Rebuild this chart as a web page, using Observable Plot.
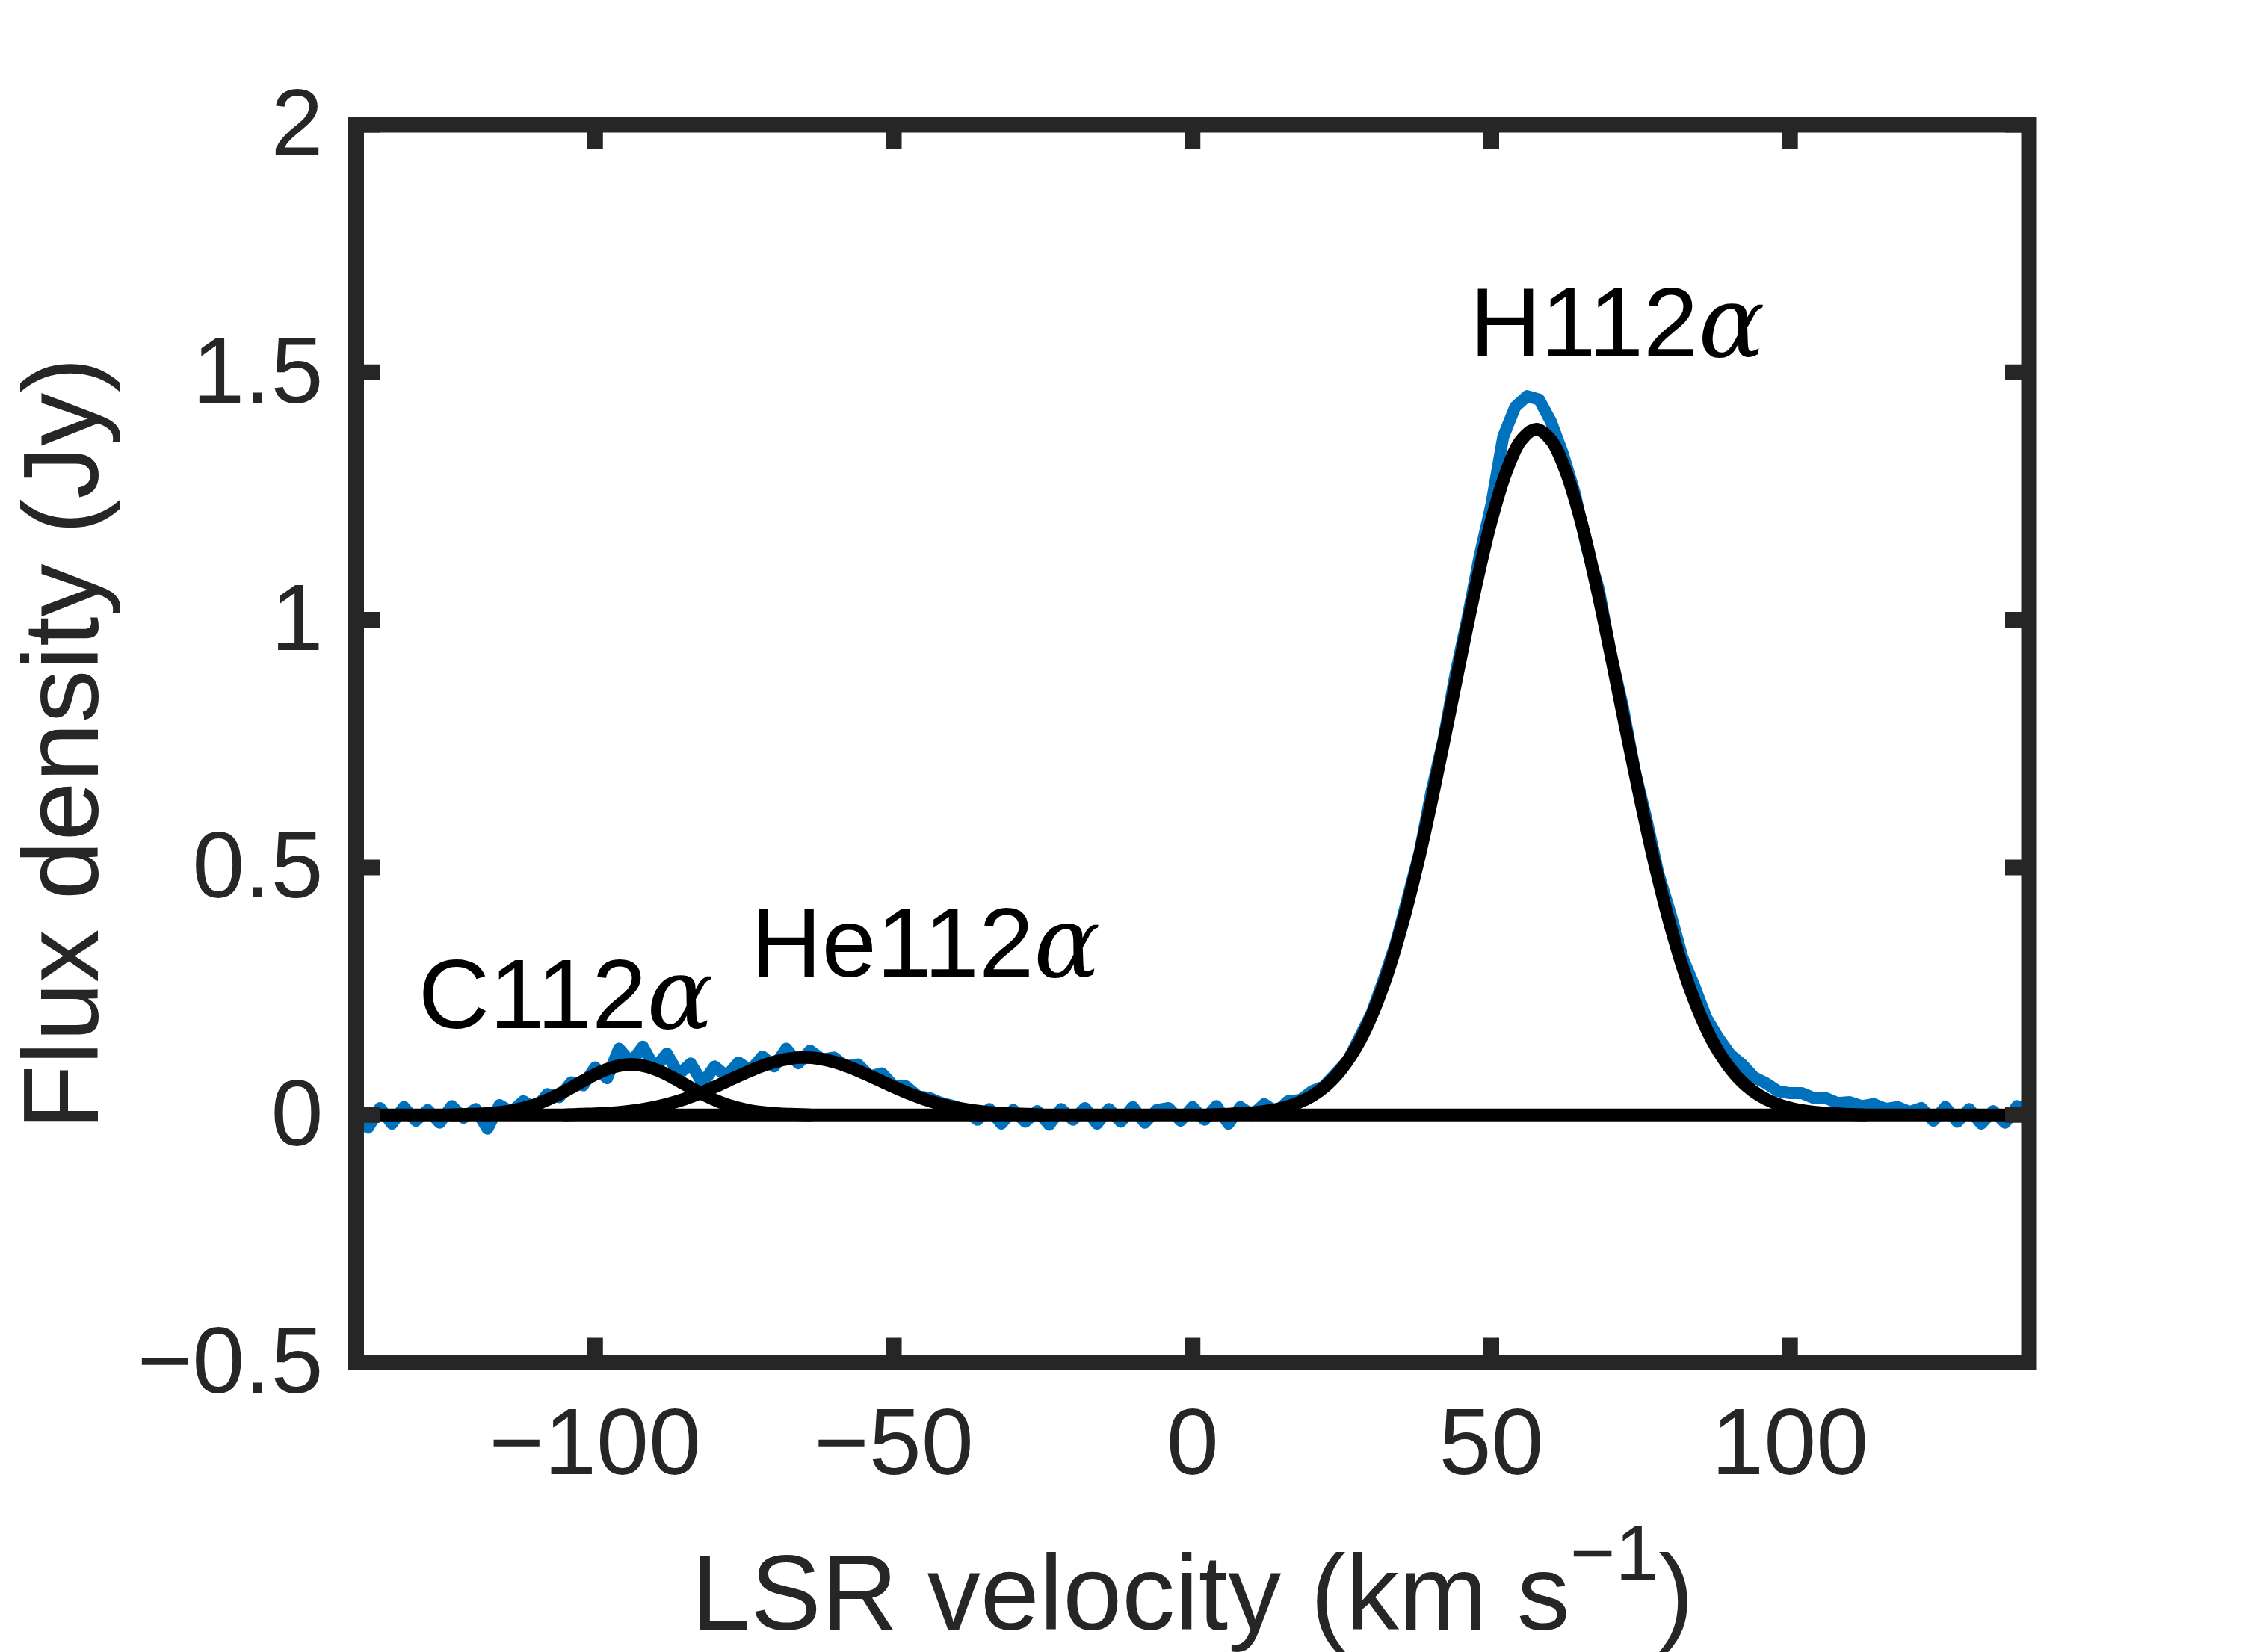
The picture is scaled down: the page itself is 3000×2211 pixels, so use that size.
<!DOCTYPE html>
<html>
<head>
<meta charset="utf-8">
<script src="https://cdn.jsdelivr.net/npm/d3@7"></script>
<script src="https://cdn.jsdelivr.net/npm/@observablehq/plot@0.6"></script>
<style>
  html, body { margin: 0; padding: 0; background: #ffffff; }
</style>
</head>
<body>
<div id="chart"></div>
<script>
// ---- observed spectrum (LSR velocity in km/s, flux density in Jy) ----
const velocity = [
  -140,-138,-136,-134,-132,-130,-128,-126,-124,-122,-120,-118,-116,-114,-112,-110,-108,-106,-104,-102,
  -100,-98,-96,-94,-92,-90,-88,-86,-84,-82,-80,-78,-76,-74,-72,-70,-68,-66,-64,-62,
  -60,-58,-56,-54,-52,-50,-48,-46,-44,-42,-40,-38,-36,-34,-32,-30,-28,-26,-24,-22,
  -20,-18,-16,-14,-12,-10,-8,-6,-4,-2,0,2,4,6,8,10,12,14,16,18,
  20,22,24,26,28,30,32,34,36,38,40,42,44,46,48,50,52,54,56,58,
  60,62,64,66,68,70,72,74,76,78,80,82,84,86,88,90,92,94,96,98,
  100,102,104,106,108,110,112,114,116,118,120,122,124,126,128,130,132,134,136,138,140
];
const flux = [
  0.022,-0.026,0.014,-0.018,0.016,-0.012,0.010,-0.016,0.018,-0.006,0.012,-0.028,0.020,0.006,0.028,0.012,0.042,0.036,0.066,0.060,
  0.096,0.074,0.134,0.106,0.138,0.094,0.124,0.082,0.104,0.064,0.098,0.078,0.106,0.090,0.118,0.098,0.134,0.104,0.130,0.112,
  0.116,0.098,0.102,0.078,0.084,0.058,0.058,0.038,0.034,0.024,0.018,0.010,-0.010,0.012,-0.018,0.010,-0.014,0.008,-0.020,0.012,
  -0.010,0.014,-0.018,0.012,-0.014,0.016,-0.016,0.010,0.014,-0.012,0.016,-0.010,0.018,-0.018,0.016,0.000,0.022,0.006,0.028,0.030,
  0.048,0.058,0.084,0.110,0.158,0.206,0.274,0.346,0.438,0.530,0.654,0.758,0.890,1.002,1.126,1.232,1.370,1.430,1.452,1.445,
  1.400,1.335,1.255,1.145,1.062,0.930,0.826,0.696,0.596,0.486,0.406,0.318,0.260,0.196,0.156,0.122,0.102,0.076,0.064,0.048,
  0.044,0.044,0.034,0.034,0.024,0.026,0.018,0.022,0.012,0.016,0.006,0.014,-0.012,0.016,-0.014,0.012,-0.018,0.008,-0.016,0.018,0.010
];

// ---- fitted line profiles ----
const fitCVelocity = [-124,-121.5,-119,-116.5,-114,-111.5,-109,-106.5,-104,-101.5,-99,-96.5,-94,-91.5,-89,-86.5,-84,-81.5,-79,-76.5,-74,-71.5,-69,-66.5,-64];
const fitCFlux = [0,0.001,0.0022,0.0045,0.0086,0.0154,0.0254,0.0389,0.055,0.0721,0.0874,0.0981,0.102,0.0981,0.0874,0.0721,0.055,0.0389,0.0254,0.0154,0.0086,0.0045,0.0022,0.001,0];

const fitHeVelocity = [-105,-102.5,-100,-97.5,-95,-92.5,-90,-87.5,-85,-82.5,-80,-77.5,-75,-72.5,-70,-67.5,-65,-62.5,-60,-57.5,-55,-52.5,-50,-47.5,-45,-42.5,-40,-37.5,-35,-32.5,-30,-27.5,-25];
const fitHeFlux = [0,0.0013,0.0023,0.0039,0.0065,0.0103,0.0157,0.023,0.0322,0.0435,0.0565,0.0704,0.0842,0.0969,0.1071,0.1137,0.116,0.1137,0.1071,0.0969,0.0842,0.0704,0.0565,0.0435,0.0322,0.023,0.0157,0.0103,0.0065,0.0039,0.0023,0.0013,0];

const fitHVelocity = [2.5,5,7.5,10,12.5,15,17.5,20,22.5,25,27.5,30,32.5,35,37.5,40,42.5,45,47.5,50,52.5,55,57.5,60,62.5,65,67.5,70,72.5,75,77.5,80,82.5,85,87.5,90,92.5,95,97.5,100,102.5,105,107.5,110,112.5];
const fitHFlux = [0,0.0012,0.0024,0.0044,0.0079,0.0138,0.0234,0.0383,0.0608,0.0936,0.139,0.201,0.281,0.381,0.499,0.634,0.780,0.930,1.073,1.200,1.299,1.363,1.385,1.363,1.299,1.200,1.073,0.930,0.780,0.634,0.499,0.381,0.281,0.201,0.139,0.0936,0.0608,0.0383,0.0234,0.0138,0.0079,0.0044,0.0024,0.0012,0];

// ---- line annotations ----
const lineNames = ["C112α", "He112α", "H112α"];
const labelVelocity = [-129.6, -74.0, 46.4];
const labelFlux = [0.176, 0.279, 1.532];

// ---- axes ----
const xTicks = [-100, -50, 0, 50, 100];
const xTickLabels = ["−100", "−50", "0", "50", "100"];
const yTicks = [-0.5, 0, 0.5, 1, 1.5, 2];
const yTickLabels = ["−0.5", "0", "0.5", "1", "1.5", "2"];
const xLabel = "LSR velocity (km s−1)";
const yLabel = "Flux density (Jy)";

// ---- tables built from the arrays ----
const spectrum = velocity.map((v, i) => ({v, f: flux[i]}));
const fitC = fitCVelocity.map((v, i) => ({v, f: fitCFlux[i]}));
const fitHe = fitHeVelocity.map((v, i) => ({v, f: fitHeFlux[i]}));
const fitH = fitHVelocity.map((v, i) => ({v, f: fitHFlux[i]}));
const labels = lineNames.map((name, i) => ({name, v: labelVelocity[i], f: labelFlux[i]}));

const FONT = "'Liberation Sans', Arial, Helvetica, sans-serif";
const INK = "#262626";
const BLUE = "#0072BD";
const TICK_LEN = 32.5;
const FRAME_W = 21;

const fitStyle = {x: "v", y: "f", stroke: "#000", strokeWidth: 17, curve: "catmull-rom", strokeLinejoin: "round", strokeLinecap: "round"};

const chart = Plot.plot({
  width: 3000,
  height: 2211,
  marginLeft: 476,
  marginRight: 285.5,
  marginTop: 166.5,
  marginBottom: 388,
  style: {fontFamily: FONT, background: "#ffffff", color: INK, overflow: "visible"},
  x: {domain: [-140, 140]},
  y: {domain: [-0.5, 2]},
  marks: [
    Plot.line(spectrum, {x: "v", y: "f", stroke: BLUE, strokeWidth: 16, strokeLinejoin: "round", strokeLinecap: "round"}),
    Plot.ruleY([0], {stroke: "#000", strokeWidth: 17}),
    Plot.line(fitC, fitStyle),
    Plot.line(fitHe, fitStyle),
    Plot.line(fitH, fitStyle),
    Plot.text(labels, {x: "v", y: "f", text: "name", textAnchor: "start", lineAnchor: "bottom",
      fontSize: 132, fill: "#000", ariaLabel: "line-labels"}),
    // inward ticks on all four sides
    Plot.axisX(xTicks, {anchor: "bottom", tickSize: TICK_LEN, insetBottom: TICK_LEN, stroke: INK, strokeWidth: FRAME_W, fill: "none", label: null}),
    Plot.axisX(xTicks, {anchor: "top", tickSize: TICK_LEN, insetTop: TICK_LEN, stroke: INK, strokeWidth: FRAME_W, fill: "none", label: null}),
    Plot.axisY(yTicks, {anchor: "left", tickSize: TICK_LEN, insetLeft: TICK_LEN, stroke: INK, strokeWidth: FRAME_W, fill: "none", label: null}),
    Plot.axisY(yTicks, {anchor: "right", tickSize: TICK_LEN, insetRight: TICK_LEN, stroke: INK, strokeWidth: FRAME_W, fill: "none", label: null}),
    // tick labels and axis titles
    Plot.axisX(xTicks, {anchor: "bottom", tickSize: 0, tickPadding: 60, fontSize: 126, fill: INK,
      tickFormat: d => xTickLabels[xTicks.indexOf(d)],
      label: xLabel, labelAnchor: "center", labelOffset: 357, labelArrow: "none", ariaLabel: "x-labels"}),
    Plot.axisY(yTicks, {anchor: "left", tickSize: 0, tickPadding: 44, fontSize: 126, fill: INK,
      tickFormat: d => yTickLabels[yTicks.indexOf(d)],
      label: yLabel, labelAnchor: "center", labelOffset: 446, labelArrow: "none", ariaLabel: "y-labels"}),
    Plot.frame({stroke: INK, strokeWidth: FRAME_W})
  ]
});

document.getElementById("chart").appendChild(chart);

// ---- typographic details: italic alpha, superscript unit, title sizes ----
const svg = d3.select(chart);
svg.selectAll("text").each(function () {
  const el = d3.select(this);
  const s = this.textContent;
  if (s === xLabel) {
    el.style("font-size", "142px");
    el.text(null);
    el.append("tspan").text("LSR velocity (km s");
    el.append("tspan").attr("dy", "-67").style("font-size", "104px").text("−1");
    el.append("tspan").attr("dy", "67").text(")");
  } else if (s === yLabel) {
    el.style("font-size", "142px");
  } else if (lineNames.includes(s)) {
    el.text(null);
    el.append("tspan").text(s.slice(0, -1));
    el.append("tspan").style("font-family", "'DejaVu Serif', 'Liberation Serif', serif")
      .style("font-style", "italic").text("α");
  }
});
</script>
</body>
</html>
